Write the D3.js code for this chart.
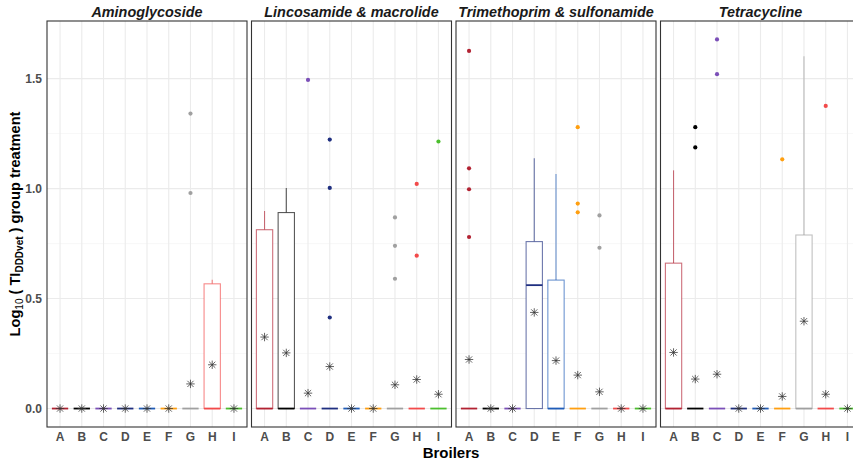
<!DOCTYPE html>
<html>
<head>
<meta charset="utf-8">
<script src="https://cdn.jsdelivr.net/npm/d3@7"></script>
<style>
  body { margin: 0; background: #fff; }
  svg { display: block; font-family: "Liberation Sans", Arial, sans-serif; }
</style>
</head>
<body>
<svg id="chart" width="853" height="464"></svg>
<script>
// ---------------- data ----------------
const categories = ["A", "B", "C", "D", "E", "F", "G", "H", "I"];
const panels = ["Aminoglycoside", "Lincosamide & macrolide", "Trimethoprim & sulfonamide", "Tetracycline"];
const colors = ["#B22232", "#000000", "#7B4FB8", "#1F2F80", "#1F5CB8", "#FF9F10", "#A0A0A0", "#F24A4A", "#4CBF2E"];
const yTicks = [0, 0.5, 1.0, 1.5];

// lower hinge & lower whisker are 0 everywhere
const upperHinge = [
  [0, 0, 0, 0, 0, 0, 0, 0.567, 0],
  [0.813, 0.891, 0, 0, 0, 0, 0, 0, 0],
  [0, 0, 0, 0.759, 0.584, 0, 0, 0, 0],
  [0.661, 0, 0, 0, 0, 0, 0.789, 0, 0]
];
const medians = [
  [0, 0, 0, 0, 0, 0, 0, 0, 0],
  [0, 0, 0, 0, 0, 0, 0, 0, 0],
  [0, 0, 0, 0.561, 0, 0, 0, 0, 0],
  [0, 0, 0, 0, 0, 0, 0, 0, 0]
];
const upperWhisker = [
  [0, 0, 0, 0, 0, 0, 0, 0.586, 0],
  [0.898, 1.003, 0, 0, 0, 0, 0, 0, 0],
  [0, 0, 0, 1.138, 1.066, 0, 0, 0, 0],
  [1.083, 0, 0, 0, 0, 0, 1.602, 0, 0]
];
const means = [
  [0, 0, 0, 0, 0, 0, 0.112, 0.199, 0],
  [0.325, 0.253, 0.070, 0.191, 0, 0, 0.108, 0.132, 0.065],
  [0.223, 0, 0, 0.437, 0.218, 0.152, 0.076, 0, 0],
  [0.255, 0.134, 0.156, 0, 0, 0.055, 0.397, 0.065, 0]
];
const outliers = [
  [[], [], [], [], [], [], [1.341, 0.980], [], []],
  [[], [], [1.494], [1.223, 1.003, 0.414], [], [], [0.869, 0.740, 0.590], [1.021, 0.695], [1.214]],
  [[1.626, 1.092, 0.997, 0.780], [], [], [], [], [1.279, 0.932, 0.892], [0.878, 0.731], [], []],
  [[], [1.279, 1.187], [1.678, 1.520], [], [], [1.133], [], [1.376], []]
];

// ---------------- layout ----------------
const svg = d3.select("#chart");
const panelW = 200, panelGap = 4.5, firstLeft = 47;
const pTop = 21, pBottom = 427;

const allVals = [].concat(...upperWhisker, ...outliers.map(p => [].concat(...p)));
const maxV = d3.max(allVals);
const pad = maxV * 0.05;
const y = d3.scaleLinear().domain([-pad, maxV + pad]).range([pBottom, pTop]);
const minorTicks = [0.25, 0.75, 1.25];
const majorTicks = yTicks.slice();

panels.forEach((name, p) => {
  const left = firstLeft + p * (panelW + panelGap);
  // ggplot discrete expansion: 0.6 units each side
  const x = d3.scalePoint().domain(categories)
    .range([left + panelW * 0.6 / 9.2, left + panelW - panelW * 0.6 / 9.2]);
  const unit = panelW / 9.2;
  const bw = unit * 0.75;
  const g = svg.append("g");

  g.append("rect").attr("x", left).attr("y", pTop).attr("width", panelW).attr("height", pBottom - pTop).attr("fill", "#fff");
  g.selectAll(".ming").data(minorTicks).join("line")
    .attr("x1", left).attr("x2", left + panelW)
    .attr("y1", d => y(d)).attr("y2", d => y(d))
    .attr("stroke", "#F2F2F2").attr("stroke-width", 0.6);
  g.selectAll(".majg").data(majorTicks).join("line")
    .attr("x1", left).attr("x2", left + panelW)
    .attr("y1", d => y(d)).attr("y2", d => y(d))
    .attr("stroke", "#EBEBEB").attr("stroke-width", 1.1);
  g.selectAll(".vg").data(categories).join("line")
    .attr("x1", d => x(d)).attr("x2", d => x(d))
    .attr("y1", pTop).attr("y2", pBottom)
    .attr("stroke", "#EBEBEB").attr("stroke-width", 1.1);

  categories.forEach((c, i) => {
    const col = colors[i];
    const xc = x(c);
    const q3 = upperHinge[p][i], med = medians[p][i], wh = upperWhisker[p][i];
    if (wh > q3) {
      g.append("line").attr("x1", xc).attr("x2", xc).attr("y1", y(q3)).attr("y2", y(wh))
        .attr("stroke", col).attr("stroke-opacity", 0.65).attr("stroke-width", 1.1);
    }
    g.append("rect").attr("x", xc - bw / 2).attr("width", bw)
      .attr("y", y(q3)).attr("height", y(0) - y(q3))
      .attr("fill", "#fff").attr("stroke", col).attr("stroke-opacity", 0.65).attr("stroke-width", 1.1);
    g.append("line").attr("x1", xc - bw / 2).attr("x2", xc + bw / 2)
      .attr("y1", y(med)).attr("y2", y(med))
      .attr("stroke", col).attr("stroke-width", 1.8);
    g.selectAll(null).data(outliers[p][i]).join("circle")
      .attr("cx", xc).attr("cy", d => y(d)).attr("r", 2.1)
      .attr("fill", col);
    const my = y(means[p][i]);
    const r = 4.2, rd = 3.1;
    const star = g.append("g").attr("stroke", "#333").attr("stroke-opacity", 0.85).attr("stroke-width", 0.9);
    star.append("line").attr("x1", xc - r).attr("x2", xc + r).attr("y1", my).attr("y2", my);
    star.append("line").attr("x1", xc).attr("x2", xc).attr("y1", my - r).attr("y2", my + r);
    star.append("line").attr("x1", xc - rd).attr("x2", xc + rd).attr("y1", my - rd).attr("y2", my + rd);
    star.append("line").attr("x1", xc - rd).attr("x2", xc + rd).attr("y1", my + rd).attr("y2", my - rd);
  });

  g.append("rect").attr("x", left).attr("y", pTop).attr("width", panelW).attr("height", pBottom - pTop)
    .attr("fill", "none").attr("stroke", "#333333").attr("stroke-width", 1.1);

  g.append("text").attr("x", left + panelW / 2).attr("y", 16.5)
    .attr("text-anchor", "middle").attr("font-size", 14.4).attr("font-weight", "bold").attr("font-style", "italic")
    .attr("fill", "#1A1A1A").text(name);

  g.selectAll(".xt").data(categories).join("text")
    .attr("x", d => x(d)).attr("y", 441)
    .attr("text-anchor", "middle").attr("font-size", 12).attr("font-weight", "bold")
    .attr("fill", "#4D4D4D").text(d => d);

  if (p === 0) {
    g.selectAll(".yt").data(yTicks).join("text")
      .attr("x", 42).attr("y", d => y(d) + 4.3)
      .attr("text-anchor", "end").attr("font-size", 12).attr("font-weight", "bold")
      .attr("fill", "#4D4D4D").text(d => d3.format(".1f")(d));
  }
});

svg.append("text").attr("x", 451).attr("y", 457.5).attr("text-anchor", "middle")
  .attr("font-size", 15).attr("font-weight", "bold").attr("fill", "#000").text("Broilers");

const yt = svg.append("text").attr("transform", `translate(19.5, ${(pTop + pBottom) / 2}) rotate(-90)`)
  .attr("text-anchor", "middle").attr("font-size", 14.6).attr("font-weight", "bold").attr("fill", "#000");
yt.append("tspan").text("Log");
yt.append("tspan").attr("font-size", 10).attr("font-weight", "normal").attr("dy", 3).text("10");
yt.append("tspan").attr("dy", -3).text(" ( TI");
yt.append("tspan").attr("font-size", 10).attr("dy", 3).text("DDDvet");
yt.append("tspan").attr("dy", -3).text(" ) group treatment");
</script>
</body>
</html>
